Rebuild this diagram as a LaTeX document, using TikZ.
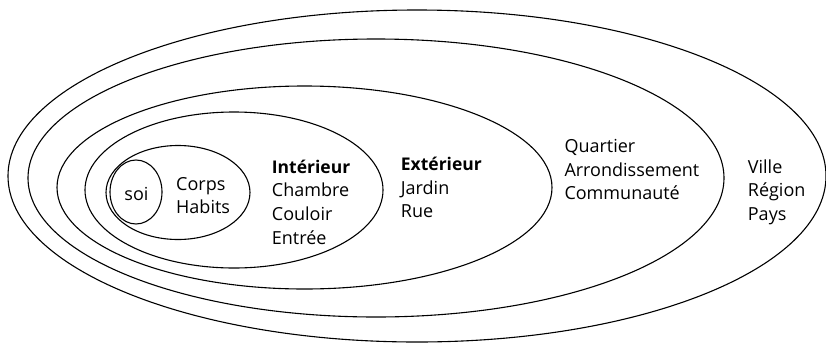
\documentclass[tikz,border=0pt]{standalone}
\usepackage{fontspec}
\setmainfont{Open Sans}
\begin{document}
\begin{tikzpicture}[x=1pt,y=-1pt,
  ring/.style={draw=black,line width=1.1pt},
  lbl/.style={anchor=base west,inner sep=0pt,font=\fontsize{18}{23}\selectfont},
  hdr/.style={lbl,font=\fontsize{17.5}{23}\selectfont\bfseries}]
\useasboundingbox (0,0) rectangle (826,343);
% rings
\draw[ring] (417,176) ellipse [x radius=409pt,y radius=166pt];
\draw[ring] (376,178) ellipse [x radius=348pt,y radius=139pt];
\draw[ring] (304.5,187.5) ellipse [x radius=247.5pt,y radius=101.5pt];
\draw[ring] (234,190) ellipse [x radius=149pt,y radius=78pt];
\draw[ring] (178,192.5) ellipse [x radius=72pt,y radius=47pt];
\draw[ring] (136,192) ellipse [x radius=26pt,y radius=32pt];
% texts
\node[lbl,anchor=base] (soi) at (136.5,200.7) {soi};
\node[lbl] (corps) at (176,190) {Corps};
\node[lbl] (habits) at (176,213.3) {Habits};
\node[hdr] (interieur) at (271.7,173.3) {Intérieur};
\node[lbl] (chambre) at (271.7,196.7) {Chambre};
\node[lbl] (couloir) at (271.7,220) {Couloir};
\node[lbl] (entree) at (271.7,244.3) {Entrée};
\node[hdr] (exterieur) at (400.7,170) {Extérieur};
\node[lbl] (jardin) at (400.7,194) {Jardin};
\node[lbl] (rue) at (400.7,217.3) {Rue};
\node[lbl] (quartier) at (564.3,152.3) {Quartier};
\node[lbl] (arrond) at (564.3,176) {Arrondissement};
\node[lbl] (communaute) at (564.3,199.3) {Communauté};
\node[lbl] (ville) at (747.7,173.3) {Ville};
\node[lbl] (region) at (747.7,196.7) {Région};
\node[lbl] (pays) at (747.7,220) {Pays};
\end{tikzpicture}
\end{document}
